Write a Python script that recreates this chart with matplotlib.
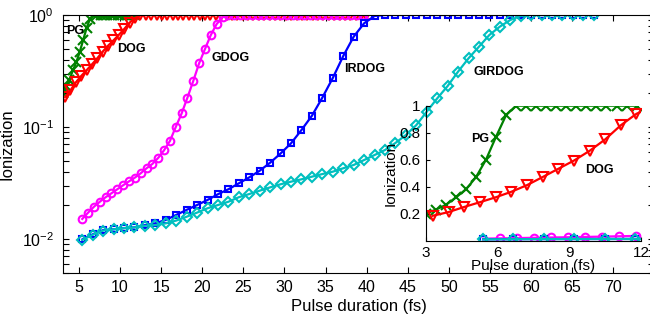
import matplotlib
matplotlib.use('Agg')
import matplotlib.pyplot as plt
import numpy as np

plt.rcParams['font.family'] = ['Liberation Sans', 'DejaVu Sans']
plt.rcParams['mathtext.fontset'] = 'custom'
plt.rcParams['mathtext.rm'] = 'Liberation Sans'
plt.rcParams['mathtext.it'] = 'Liberation Sans:italic'
plt.rcParams['mathtext.bf'] = 'Liberation Sans:bold'

# pulse duration grids (fs) for each pulse shape
pg_t = 3.0 + 0.42 * np.arange(22)
dog_t = 3.3 + 0.655 * np.arange(57)
gdog_t = 5.4 + 0.711 * np.arange(50)
irdog_t = 5.4 + 1.27 * np.arange(50)
girdog_t = 5.4 + 1.27 * np.arange(50)

# ionization probability
pg_ion = [0.20, 0.23, 0.265, 0.32, 0.38, 0.47, 0.60, 0.77, 0.93, 1.0] + [1.0] * 12
dog_ion = [0.185, 0.212, 0.25, 0.285, 0.321, 0.362, 0.411, 0.471, 0.532, 0.593,
           0.665, 0.75, 0.855, 0.94, 0.99] + [1.0] * 42
gdog_ion = [0.0151, 0.0172, 0.0194, 0.0215, 0.0236, 0.0256, 0.0278, 0.0302, 0.0327,
            0.0353, 0.0386, 0.0428, 0.0468, 0.053, 0.062, 0.075, 0.100, 0.132, 0.183,
            0.258, 0.371, 0.497, 0.663, 0.831, 0.954, 0.995] + [1.0] * 24
irdog_ion = [0.0099, 0.011, 0.012, 0.0122, 0.0125, 0.0127, 0.0133, 0.0138, 0.0148,
             0.0164, 0.0182, 0.0201, 0.0223, 0.0251, 0.0278, 0.0314, 0.0355, 0.0407,
             0.048, 0.058, 0.0715, 0.094, 0.126, 0.183, 0.274, 0.43, 0.64, 0.843,
             0.98] + [1.0] * 21
girdog_ion = [0.0098, 0.0109, 0.0119, 0.0122, 0.0125, 0.0127, 0.0131, 0.0133, 0.0138,
              0.0146, 0.0158, 0.0172, 0.0188, 0.0201, 0.0215, 0.0236, 0.0252, 0.027,
              0.0289, 0.0308, 0.0325, 0.0341, 0.036, 0.038, 0.0399, 0.0428, 0.0458,
              0.0507, 0.0562, 0.0623, 0.072, 0.0848, 0.104, 0.137, 0.18, 0.232, 0.312,
              0.41, 0.521, 0.663, 0.787, 0.902, 0.98] + [1.0] * 7

series = [
    (pg_t, pg_ion, '#008000', 'x', 6.5),
    (dog_t, dog_ion, '#ff0000', 'v', 7.5),
    (gdog_t, gdog_ion, '#ff00ff', 'o', 5.5),
    (irdog_t, irdog_ion, '#0000ff', 's', 4.5),
    (girdog_t, girdog_ion, '#00bfbf', 'D', 5),
]

fig = plt.figure(figsize=(6.5, 3.21), dpi=100)
ax = fig.add_axes([0.0962, 0.1505, 0.9105, 0.8028])

for t, ion, color, marker, size in series:
    ax.plot(t, ion, color=color, marker=marker, ms=size, mfc='none', mew=1.5, lw=1.6)

ax.set_yscale('log')
ax.set_xlim(3, 75)
ax.set_ylim(0.005, 1)
ax.set_xticks(np.arange(5, 75, 5))
ax.tick_params(which='both', direction='in', top=True, right=True, length=4,
               width=0.8, labelsize=11.5)
ax.tick_params(axis='x', pad=5)
ax.tick_params(axis='y', pad=6)
ax.set_xlabel('Pulse duration (fs)', fontsize=12, labelpad=3)
ax.set_ylabel('Ionization', fontsize=12, labelpad=5)

lab = dict(fontsize=9, fontweight='bold', va='center', ha='left')
ax.text(3.4, 0.72, 'PG', **lab)
ax.text(9.6, 0.50, 'DOG', **lab)
ax.text(21.1, 0.41, 'GDOG', **lab)
ax.text(37.2, 0.33, 'IRDOG', **lab)
ax.text(53.0, 0.31, 'GIRDOG', **lab)

# zoom on the short pulses, linear scale
axin = fig.add_axes([0.655, 0.2502, 0.331, 0.4206], facecolor='none')
for t, ion, color, marker, size in series:
    axin.plot(t, ion, color=color, marker=marker, ms=size - 0.5 if marker == 'v' else size,
              mfc='none', mew=1.5, lw=1.6)
axin.set_xlim(3, 12)
axin.set_ylim(0, 1)
axin.set_xticks([3, 6, 9, 12])
axin.set_yticks([0.2, 0.4, 0.6, 0.8, 1.0])
axin.set_yticklabels(['0.2', '0.4', '0.6', '0.8', '1'])
axin.spines['top'].set_visible(False)
axin.spines['right'].set_visible(False)
axin.tick_params(direction='in', length=3, width=0.8, labelsize=11, pad=4)
axin.set_xlabel('Pulse duration (fs)', fontsize=11, labelpad=-1)
axin.set_ylabel('Ionization', fontsize=11, labelpad=1)
axin.text(4.88, 0.75, 'PG', **lab)
axin.text(9.67, 0.527, 'DOG', **lab)

fig.savefig('out.png', dpi=100)
